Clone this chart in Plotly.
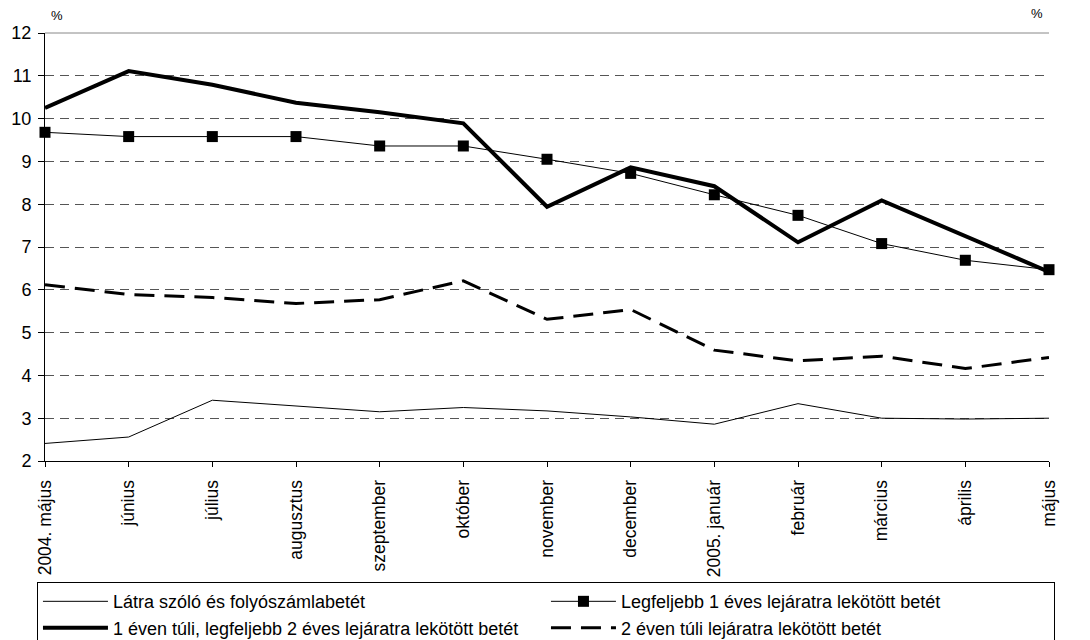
import plotly.graph_objects as go

# Havi átlagos betéti kamatok (%)
months = ["2004. május", "június", "július", "augusztus", "szeptember", "október",
          "november", "december", "2005. január", "február", "március", "április", "május"]

latra = [2.41, 2.56, 3.42, 3.29, 3.15, 3.25, 3.17, 3.03, 2.86, 3.34, 3.00, 2.98, 3.00]
legf_1_eves = [9.68, 9.58, 9.58, 9.58, 9.36, 9.36, 9.05, 8.72, 8.22, 7.74, 7.08, 6.69, 6.47]
ev_1_2 = [10.25, 11.11, 10.79, 10.37, 10.15, 9.89, 7.94, 8.86, 8.42, 7.11, 8.09, 7.26, 6.42]
ev_2_felett = [6.12, 5.89, 5.82, 5.68, 5.77, 6.21, 5.31, 5.54, 4.59, 4.34, 4.45, 4.16, 4.42]

y_ticks = list(range(2, 13))

FONT = "Liberation Sans, Arial, sans-serif"
x = list(range(len(months)))

fig = go.Figure()
fig.add_trace(go.Scatter(
    x=x, y=latra, mode="lines", name="Látra szóló és folyószámlabetét",
    line=dict(color="black", width=1), cliponaxis=False))
fig.add_trace(go.Scatter(
    x=x, y=legf_1_eves, mode="lines+markers", name="Legfeljebb 1 éves lejáratra lekötött betét",
    line=dict(color="black", width=1),
    marker=dict(symbol="square", size=11, color="black"), cliponaxis=False))
fig.add_trace(go.Scatter(
    x=x, y=ev_1_2, mode="lines", name="1 éven túli, legfeljebb 2 éves lejáratra lekötött betét",
    line=dict(color="black", width=4), cliponaxis=False))
fig.add_trace(go.Scatter(
    x=x, y=ev_2_felett, mode="lines", name="2 éven túli lejáratra lekötött betét",
    line=dict(color="black", width=3, dash="20px,10px"), cliponaxis=False))

y_font = dict(family=FONT, size=18, color="black")
x_font = dict(family=FONT, size=17.5, color="black")

fig.update_layout(
    width=1090, height=640,
    margin=dict(l=45, r=41, t=33, b=179, autoexpand=False),
    paper_bgcolor="white", plot_bgcolor="white",
    font=dict(family=FONT, color="black"),
    showlegend=True,
    legend=dict(
        orientation="h", x=-0.008, xanchor="left", y=-0.283, yanchor="top",
        entrywidth=428, entrywidthmode="pixels", itemwidth=65,
        bordercolor="black", borderwidth=1, bgcolor="white",
        font=dict(family=FONT, size=18, color="black"),
        traceorder="normal", tracegroupgap=0,
    ),
    xaxis=dict(
        range=[0, len(months) - 1], tickmode="array", tickvals=x, ticktext=months,
        tickangle=-90, ticks="outside", ticklen=5, tickcolor="black",
        showline=True, linecolor="black", linewidth=1,
        showgrid=False, zeroline=False, tickfont=x_font, ticklabelstandoff=6,
    ),
    yaxis=dict(
        range=[2, 12], tickmode="array", tickvals=y_ticks,
        ticks="outside", ticklen=6, tickcolor="black",
        showline=True, linecolor="black", linewidth=1,
        showgrid=True, gridcolor="#555555", gridwidth=1, griddash="9px,6px",
        zeroline=False, tickfont=y_font, ticklabelstandoff=3,
    ),
    yaxis2=dict(
        range=[2, 12], tickmode="array", tickvals=y_ticks,
        overlaying="y", side="right", anchor="x",
        ticks="outside", ticklen=6, tickcolor="black",
        showline=True, linecolor="black", linewidth=1,
        showgrid=False, zeroline=False, tickfont=y_font, ticklabelstandoff=8,
    ),
    shapes=[dict(type="line", xref="paper", yref="paper", x0=0, x1=1, y0=1, y1=1,
                 line=dict(color="#888888", width=1))],
    annotations=[
        dict(text="%", xref="paper", yref="paper", x=0.012, y=1.04, xanchor="center",
             yanchor="middle", showarrow=False, font=dict(family=FONT, size=13)),
        dict(text="%", xref="paper", yref="paper", x=0.988, y=1.045, xanchor="center",
             yanchor="middle", showarrow=False, font=dict(family=FONT, size=13)),
    ],
)

fig.write_html("out.html")
